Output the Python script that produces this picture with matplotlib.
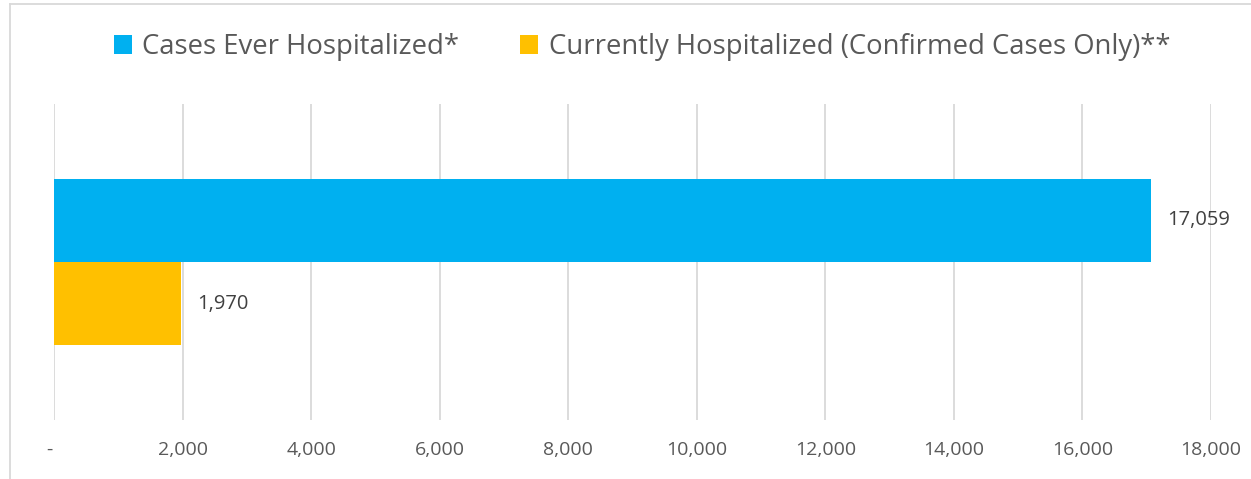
import matplotlib
matplotlib.use("Agg")
import matplotlib.pyplot as plt
import matplotlib.transforms as mtransforms
from matplotlib.lines import Line2D

# Data
series = ["Cases Ever Hospitalized*", "Currently Hospitalized (Confirmed Cases Only)**"]
values = [17059, 1970]
colors = ["#00B0F0", "#FFC000"]
x_ticks = [0, 2000, 4000, 6000, 8000, 10000, 12000, 14000, 16000, 18000]
x_labels = ["-"] + [f"{v:,}" for v in x_ticks[1:]]

plt.rcParams["font.family"] = ["Open Sans", "DejaVu Sans"]

W, H = 1251, 479
fig = plt.figure(figsize=(W / 100, H / 100), dpi=100)
ax = fig.add_axes([54 / W, (H - 420) / H, (1211 - 54) / W, 316 / H])

bar_h = 83 / 316
offsets = [bar_h / 2, -bar_h / 2]
for name, val, col, off in zip(series, values, colors, offsets):
    ax.barh(off, val, height=bar_h, color=col, label=name, zorder=3)
    ax.annotate(f"{val:,}", (val, off), xytext=(12, 0), textcoords="offset points",
                va="center", ha="left", fontsize=14.5, color="#404040")

ax.set_xlim(0, 18000)
ax.set_ylim(-0.5, 0.5)
ax.set_xticks(x_ticks)
ax.set_xticklabels(x_labels)
ax.set_yticks([])
ax.tick_params(axis="x", length=0, pad=15, labelsize=14, labelcolor="#595959")
ax.grid(axis="x", color="#D9D9D9", lw=1.3, zorder=0)
for s in ax.spines.values():
    s.set_visible(False)

# the "-" zero label sits a little left of its gridline
lab0 = ax.get_xticklabels()[0]
lab0.set_transform(lab0.get_transform() + mtransforms.ScaledTranslation(-5 / 100, 0, fig.dpi_scale_trans))

fig.legend(loc="center", bbox_to_anchor=(642 / W, 1 - 47 / H), ncol=2, frameon=False,
           fontsize=19.8, labelcolor="#595959", handlelength=0.65, handleheight=0.65,
           handletextpad=0.4, columnspacing=2.2)

# chart outer border (top and left visible)
fig.add_artist(Line2D([10 / W, 1], [1 - 4 / H, 1 - 4 / H], transform=fig.transFigure,
                      color="#D9D9D9", lw=1.3))
fig.add_artist(Line2D([10 / W, 10 / W], [0, 1 - 4 / H], transform=fig.transFigure,
                      color="#D9D9D9", lw=1.3))

fig.savefig("out.png", dpi=100)
